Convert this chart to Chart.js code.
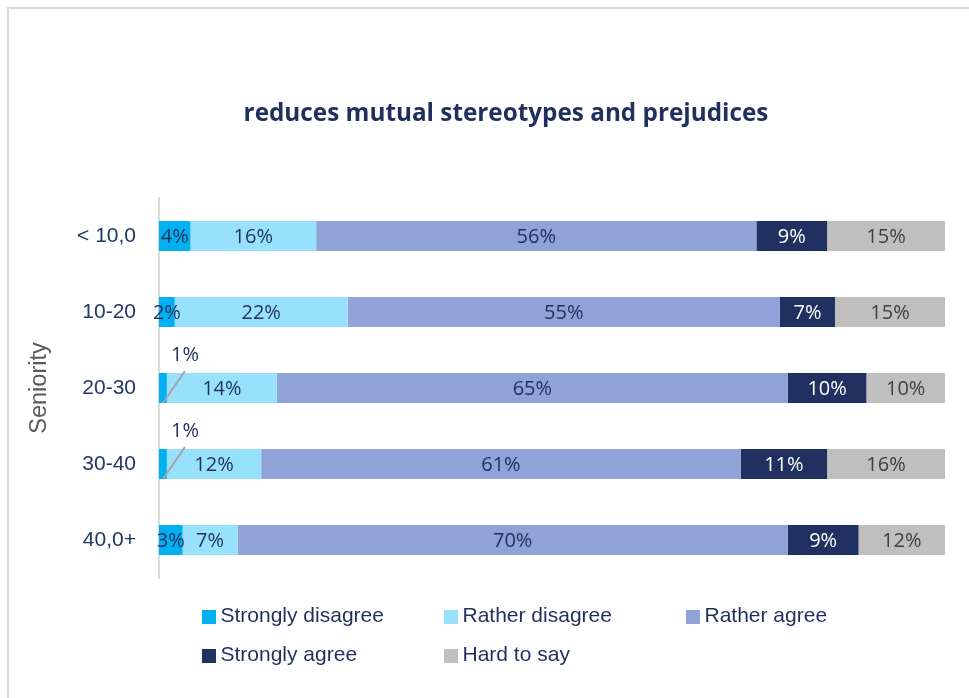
<!DOCTYPE html>
<html lang="en">
<head>
<meta charset="UTF-8">
<title>reduces mutual stereotypes and prejudices</title>
<script src="https://cdn.jsdelivr.net/npm/chart.js@4"></script>
<style>
  html, body { margin: 0; padding: 0; background: #fff; overflow: hidden; }
  #wrap { position: relative; width: 969px; height: 698px; }
  #frame { position: absolute; left: 7px; top: 7px; width: 1000px; height: 800px;
           border-left: 2px solid #d9d9d9; border-top: 2px solid #d9d9d9; }
  #cvs { position: absolute; left: 0; top: 0; }
  #title { position: absolute; left: 506px; top: 97px; transform: translateX(-50%); white-space: nowrap;
           font: bold 24.3px 'Open Sans', sans-serif; line-height: 30px; color: #1f305e; }
  #legend { position: absolute; left: 202px; top: 603px; display: grid;
            grid-template-columns: 242px 242px 242px; grid-auto-rows: 39px;
            font: 21px 'Liberation Sans', Arial, sans-serif; color: #1f305e; }
  #legend .item { display: flex; align-items: center; height: 24px; }
  #legend .box { width: 13.5px; height: 13.5px; margin-right: 5px; position: relative; top: 2px; }
</style>
</head>
<body>
<div id="wrap">
  <div id="frame"></div>
  <canvas id="cvs" width="969" height="698"></canvas>
  <div id="title">reduces mutual stereotypes and prejudices</div>
  <div id="legend"></div>
</div>
<script>
// seniority groups, top to bottom
const categories = ['< 10,0', '10-20', '20-30', '30-40', '40,0+'];
const seriesNames = ['Strongly disagree', 'Rather disagree', 'Rather agree', 'Strongly agree', 'Hard to say'];
const stronglyDisagree = [4, 2, 1, 1, 3];
const ratherDisagree = [16, 22, 14, 12, 7];
const ratherAgree = [56, 55, 65, 61, 70];
const stronglyAgree = [9, 7, 10, 11, 9];
const hardToSay = [15, 15, 10, 16, 12];
const axisTitle = 'Seniority';

const seriesValues = [stronglyDisagree, ratherDisagree, ratherAgree, stronglyAgree, hardToSay];
const fills = ['#00b0f0', '#97e1fd', '#8fa3d8', '#203060', '#bfbfbf'];
const labelInk = ['#1f305e', '#1f305e', '#1f305e', '#ffffff', '#404040'];

// segment labels; slivers get a label above with a leader line
const segmentLabels = {
  id: 'segmentLabels',
  afterDatasetsDraw(chart) {
    const ctx = chart.ctx, area = chart.chartArea;
    ctx.save();
    ctx.font = "20px 'Open Sans', sans-serif";
    ctx.textAlign = 'center';
    ctx.textBaseline = 'middle';
    chart.data.datasets.forEach((ds, i) => {
      const meta = chart.getDatasetMeta(i);
      meta.data.forEach((bar, j) => {
        const left = Math.max(bar.base, area.left);
        const right = Math.min(bar.x, area.right);
        const cx = (left + right) / 2;
        const half = bar.height / 2;
        const txt = seriesValues[i][j] + '%';
        if (right - left < 10) {
          ctx.strokeStyle = '#a6a6a6';
          ctx.lineWidth = 2;
          ctx.beginPath();
          ctx.moveTo(cx, bar.y + half);
          ctx.lineTo(cx + 22, bar.y - half - 2);
          ctx.stroke();
          ctx.fillStyle = labelInk[0];
          ctx.fillText(txt, cx + 22, bar.y - half - 18);
        } else {
          ctx.fillStyle = labelInk[i];
          ctx.fillText(txt, cx, bar.y + 1);
        }
      });
    });
    ctx.restore();
  }
};

const chart = new Chart(document.getElementById('cvs').getContext('2d'), {
  type: 'bar',
  data: {
    labels: categories,
    datasets: seriesNames.map((name, i) => ({
      label: name,
      data: seriesValues[i],
      backgroundColor: fills[i],
      borderWidth: 0,
      categoryPercentage: 1,
      barPercentage: 0.395,
      clip: 0
    }))
  },
  options: {
    indexAxis: 'y',
    responsive: false,
    animation: false,
    devicePixelRatio: 1,
    layout: { padding: { top: 198, bottom: 120, left: 8, right: 24 } },
    plugins: { legend: { display: false }, tooltip: { enabled: false } },
    scales: {
      x: { stacked: true, min: 0, max: 100, display: false },
      y: {
        stacked: true,
        afterFit(scale) { scale.width = 151; },
        grid: { display: false, drawTicks: false },
        border: { display: true, color: '#d9d9d9', width: 2 },
        ticks: { padding: 23, color: '#1f3864', font: { family: "'Liberation Sans', Arial, sans-serif", size: 21 } },
        title: {
          display: true, text: axisTitle, color: '#595959',
          padding: { top: 17, bottom: 0 },
          font: { family: "'Liberation Sans', Arial, sans-serif", size: 23.5 }
        }
      }
    }
  },
  plugins: [segmentLabels]
});

// legend laid out in fixed columns below the plot
const legend = document.getElementById('legend');
seriesNames.forEach((name, i) => {
  const item = document.createElement('div');
  item.className = 'item';
  item.innerHTML = `<span class="box" style="background:${fills[i]}"></span><span>${name}</span>`;
  legend.appendChild(item);
});
</script>
</body>
</html>
